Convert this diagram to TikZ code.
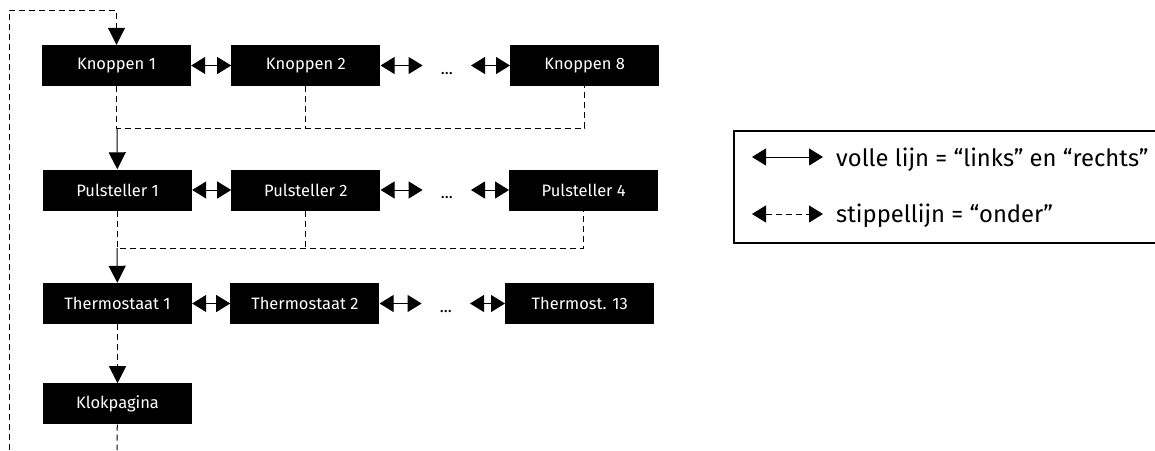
\documentclass[tikz,border=0pt]{standalone}
\usepackage{fontspec}
\setmainfont{Fira Sans}
\usetikzlibrary{positioning, arrows.meta}

\begin{document}
\begin{tikzpicture}[
    x=1pt, y=-1pt,
    node distance=40pt,
    box/.style={rectangle, fill=black, text=white, minimum width=149pt, minimum height=41pt, inner sep=0pt, font=\fontsize{16.5}{18}\selectfont},
    dots/.style={minimum width=48pt, inner sep=0pt, text height=17pt, text depth=0pt, font=\fontsize{16.5}{18}\selectfont},
    both/.style={{Triangle[length=14pt,width=17pt]}-{Triangle[length=14pt,width=17pt]}, line width=1pt},
    down/.style={-{Triangle[length=17pt,width=17pt]}, line width=1pt},
    stippel/.style={dash pattern=on 6pt off 4pt, line width=1pt},
    legend/.style={draw, line width=2pt, minimum width=424pt, minimum height=112pt, inner sep=0pt},
    uitleg/.style={anchor=west, inner sep=0pt, font=\fontsize{23.8}{28}\selectfont}
]
\useasboundingbox (0,0) rectangle (1155,450);

% Knoppen
\node (k1) [box] at (116.5,65.5) {Knoppen 1};
\node (k2) [box, right=40pt of k1] {Knoppen 2};
\node (kdots) [dots, right=42pt of k2] {...};
\node (k8) [box, right=39pt of kdots] {Knoppen 8};

% Pulstellers
\node (p1) [box] at (117.5,190) {Pulsteller 1};
\node (p2) [box, right=39pt of p1] {Pulsteller 2};
\node (pdots) [dots, right=42pt of p2] {...};
\node (p4) [box, right=38pt of pdots] {Pulsteller 4};

% Thermostaten
\node (t1) [box] at (117.5,303.5) {Thermostaat 1};
\node (t2) [box, right=38pt of t1] {Thermostaat 2};
\node (tdots) [dots, right=42pt of t2] {...};
\node (t13) [box, right=35pt of tdots] {Thermost. 13};

% Klok
\node (kl) [box, below=59pt of t1] {Klokpagina};

% links en rechts
\draw [both] (k1) -- (k2);
\draw [both] (k2) -- (kdots);
\draw [both] (kdots) -- (k8);
\draw [both] (p1) -- (p2);
\draw [both] (p2) -- (pdots);
\draw [both] (pdots) -- (p4);
\draw [both] (t1) -- (t2);
\draw [both] (t2) -- (tdots);
\draw [both] (tdots) -- (t13);

% onder
\coordinate (j1) at (117,128);
\coordinate (j2) at (117,248);
\draw [stippel] (k1) -- (k1 |- j1) -| (k8);
\draw [stippel] (k2) -- (k2 |- j1);
\draw [down] (j1) -- (p1);
\draw [stippel] (p1) -- (p1 |- j2) -| (p4);
\draw [stippel] (p2) -- (p2 |- j2);
\draw [down] (j2) -- (t1);
\draw [stippel, down] (t1) -- (kl);

% terug naar boven
\coordinate (klend) at (117,450);
\coordinate (loopin) at (9,450);
\coordinate (looptop) at (9,10);
\draw [stippel] (kl) -- (klend);
\draw [stippel, down] (loopin) -- (looptop) -| (k1);

% Legenda
\node (legend) [legend] at (946,187) {};
\coordinate (l1a) at (752,157);
\coordinate (l1b) at (823,157);
\coordinate (l2a) at (752,214);
\coordinate (l2b) at (823,214);
\draw [both] (l1a) -- (l1b);
\draw [both, stippel] (l2a) -- (l2b);
\node (l1t) [uitleg] at (836,160) {volle lijn = “links” en “rechts”};
\node (l2t) [uitleg] at (836,216) {stippellijn = “onder”};

\end{tikzpicture}
\end{document}
